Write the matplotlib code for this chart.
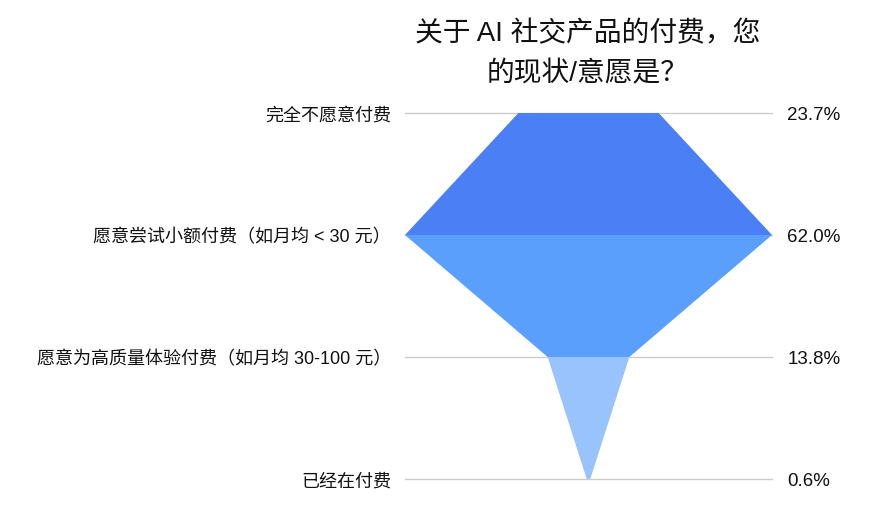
import matplotlib
matplotlib.use("Agg")
import matplotlib.pyplot as plt

# latin glyphs in an Arial-like face, CJK from Noto
plt.rcParams['font.family'] = ['Liberation Sans', 'Noto Sans CJK SC', 'DejaVu Sans']

# data
categories = ["完全不愿意付费",
              "愿意尝试小额付费（如月均 < 30 元）",
              "愿意为高质量体验付费（如月均 30-100 元）",
              "已经在付费"]
values = [23.7, 62.0, 13.8, 0.6]
value_labels = ["23.7%", "62.0%", "13.8%", "0.6%"]
seg_colors = ["#4a7ff5", "#5a9ffc", "#99c3fd"]

fig = plt.figure(figsize=(8.72, 5.10), dpi=100)
ax = fig.add_axes([405/872, 30/510, 367/872, 366/510])

half = max(values) / 2
ax.set_xlim(-half, half)
ax.set_ylim(len(values) - 1, 0)

# grid lines behind the funnel
for i in range(len(values)):
    ax.plot([-half, half], [i, i], color="#cccccc", lw=1, zorder=1, clip_on=False)

# funnel segments between successive levels
for i in range(len(values) - 1):
    a = values[i] / 2
    b = values[i + 1] / 2
    ax.fill([-a, a, b, -b], [i, i, i + 1, i + 1], color=seg_colors[i], lw=0, zorder=2)

ax.set_yticks(range(len(values)))
ax.set_yticklabels(categories, fontsize=13, color="#111111")
ax.tick_params(axis="y", length=0, pad=10)
ax.set_xticks([])

ax2 = ax.twinx()
ax2.set_ylim(ax.get_ylim())
ax2.set_yticks(range(len(values)))
ax2.set_yticklabels(value_labels, fontsize=13.5, color="#111111")
ax2.tick_params(axis="y", length=0, pad=11)

for a_ in (ax, ax2):
    for s in a_.spines.values():
        s.set_visible(False)

fig.text(588/872, 1 - 54/510, "关于 AI 社交产品的付费，您\n的现状/意愿是？",
         ha="center", va="center", fontsize=20, color="#111111", linespacing=1.68)

fig.savefig("out.png", dpi=100)
